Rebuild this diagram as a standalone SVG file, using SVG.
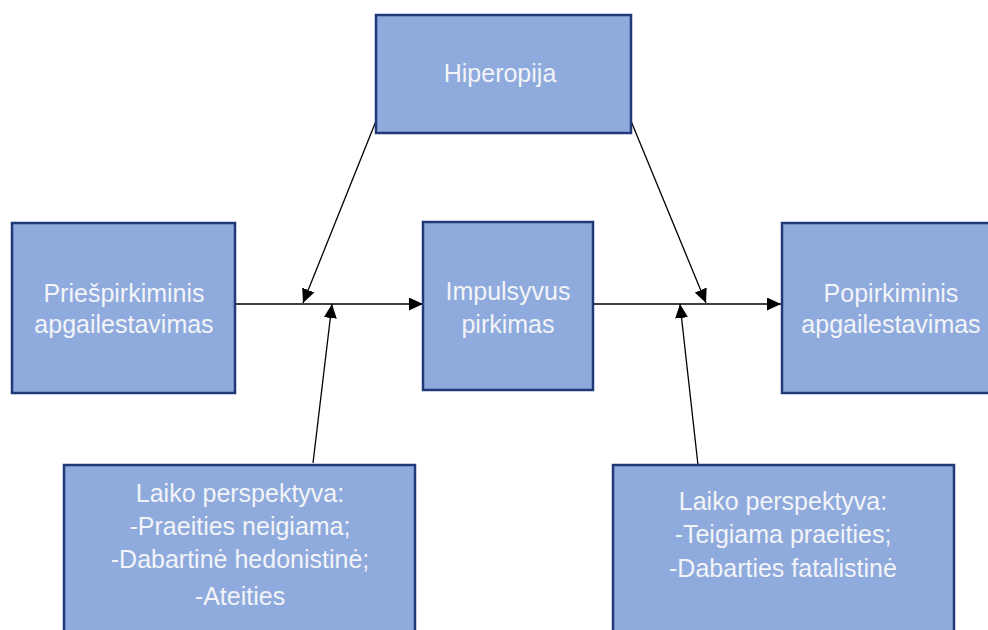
<svg xmlns="http://www.w3.org/2000/svg" width="988" height="630" viewBox="0 0 988 630">
<defs>
<style>
.box{fill:#8FAADC;stroke:#1F3A78;stroke-width:2.5}
.lbl{font-family:"Liberation Sans",Arial,sans-serif;font-size:25px;fill:#F2F4F8;text-anchor:middle}
.con{stroke:#000;stroke-width:1.3;fill:none}
</style>
<marker id="ah" markerUnits="userSpaceOnUse" markerWidth="15" markerHeight="13" refX="14" refY="6.5" orient="auto">
<path d="M0,0 L14,6.5 L0,13 Z" fill="#000"/>
</marker>
</defs>
<rect width="988" height="630" fill="#fff"/>
<g id="connectors">
<line class="con" x1="235" y1="304" x2="423" y2="304" marker-end="url(#ah)"/>
<line class="con" x1="593" y1="304" x2="781" y2="304" marker-end="url(#ah)"/>
<line class="con" x1="376" y1="121" x2="303" y2="303" marker-end="url(#ah)"/>
<line class="con" x1="631" y1="121" x2="706" y2="303" marker-end="url(#ah)"/>
<line class="con" x1="313" y1="463" x2="332" y2="304" marker-end="url(#ah)"/>
<line class="con" x1="698" y1="465" x2="680" y2="304" marker-end="url(#ah)"/>
</g>
<g id="hiperopija">
<rect class="box" x="376" y="15" width="255" height="118"/>
<text class="lbl" x="500" y="82">Hiperopija</text>
</g>
<g id="priespirkiminis">
<rect class="box" x="12" y="223" width="223" height="170"/>
<text class="lbl" x="124" y="302">Priešpirkiminis</text>
<text class="lbl" x="124" y="333">apgailestavimas</text>
</g>
<g id="impulsyvus">
<rect class="box" x="423" y="222" width="170" height="168"/>
<text class="lbl" x="508" y="300">Impulsyvus</text>
<text class="lbl" x="508" y="333">pirkimas</text>
</g>
<g id="popirkiminis">
<rect class="box" x="782" y="223" width="222" height="170"/>
<text class="lbl" x="891" y="302">Popirkiminis</text>
<text class="lbl" x="891" y="333">apgailestavimas</text>
</g>
<g id="laiko1">
<rect class="box" x="64" y="465" width="351" height="180"/>
<text class="lbl" x="240" y="502">Laiko perspektyva:</text>
<text class="lbl" x="240" y="535">-Praeities neigiama;</text>
<text class="lbl" x="240" y="568">-Dabartinė hedonistinė;</text>
<text class="lbl" x="240" y="605">-Ateities</text>
</g>
<g id="laiko2">
<rect class="box" x="613" y="465" width="341" height="180"/>
<text class="lbl" x="783" y="510">Laiko perspektyva:</text>
<text class="lbl" x="783" y="543">-Teigiama praeities;</text>
<text class="lbl" x="783" y="577">-Dabarties fatalistinė</text>
</g>
</svg>
